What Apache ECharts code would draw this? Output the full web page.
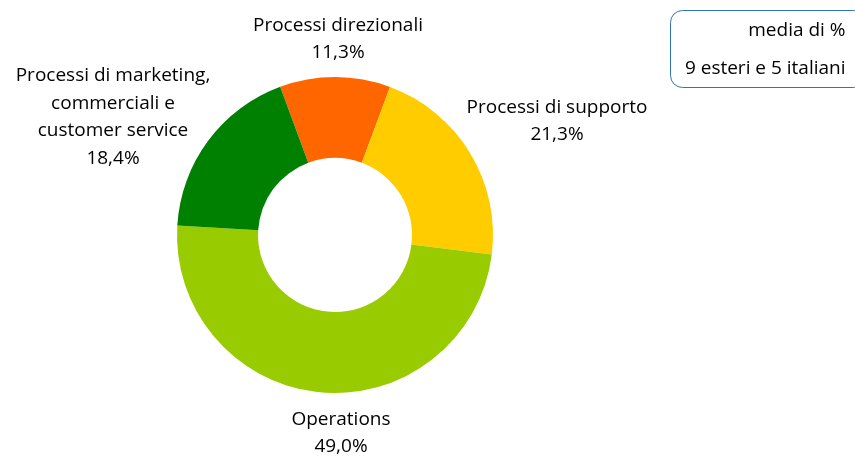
<!DOCTYPE html>
<html>
<head>
<meta charset="utf-8">
<style>
  html, body { margin: 0; padding: 0; background: #fff; }
  #chart { width: 855px; height: 457px; }
</style>
<script src="https://cdn.jsdelivr.net/npm/echarts@6/dist/echarts.min.js"></script>
</head>
<body>
<div id="chart"></div>
<script>
const categories = ['Processi direzionali', 'Processi di supporto', 'Operations', 'Processi di marketing,\ncommerciali e\ncustomer service'];
const values = [11.3, 21.3, 49.0, 18.4];
const colors = ['#FF6600', '#FFCC00', '#99CC00', '#008000'];
const legendLines = ['media di %', '9 esteri e 5 italiani'];

// label block centres (text placement, like Excel "best fit")
const labelAnchors = [[338, 39], [557, 121], [341, 433], [113, 117]];

const chart = echarts.init(document.getElementById('chart'));
const fontFamily = 'Open Sans, sans-serif';

const option = {
  animation: false,
  series: [{
    type: 'pie',
    center: [335, 235],
    radius: [77, 158],
    startAngle: 110.3,
    clockwise: true,
    data: categories.map((name, i) => ({
      name: name,
      value: values[i],
      itemStyle: { color: colors[i] }
    })),
    label: {
      show: true,
      position: 'outside',
      formatter: p => p.name + '\n' + p.value.toFixed(1).replace('.', ',') + '%',
      color: '#000',
      fontSize: 19,
      lineHeight: 27.5,
      fontFamily: fontFamily,
      align: 'center',
      overflow: 'none',
      width: 260
    },
    labelLine: { show: false },
    labelLayout: p => ({
      x: labelAnchors[p.dataIndex][0],
      y: labelAnchors[p.dataIndex][1],
      align: 'center',
      verticalAlign: 'middle'
    })
  }],
  graphic: [{
    type: 'group',
    left: 670,
    top: 10,
    children: [{
      type: 'rect',
      shape: { x: 0, y: 0, width: 195, height: 77, r: 12 },
      style: { fill: '#fff', stroke: '#2E75B6', lineWidth: 1 }
    }, {
      type: 'text',
      style: {
        x: 175, y: 20, text: legendLines[0], align: 'right', verticalAlign: 'middle',
        font: '19px ' + fontFamily, fill: '#000'
      }
    }, {
      type: 'text',
      style: {
        x: 175, y: 58, text: legendLines[1], align: 'right', verticalAlign: 'middle',
        font: '19px ' + fontFamily, fill: '#000'
      }
    }]
  }]
};

chart.setOption(option);
window.addEventListener('resize', () => chart.resize());
</script>
</body>
</html>
